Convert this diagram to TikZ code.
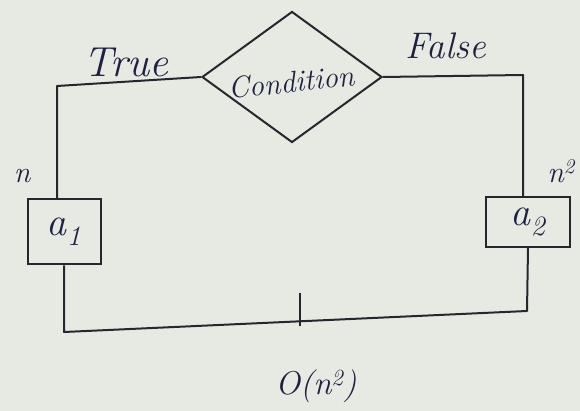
\documentclass[tikz,border=0pt]{standalone}
\usepackage{fontspec}
\usetikzlibrary{shapes.geometric}
\definecolor{paper}{HTML}{E7EAE3}
\definecolor{ink}{HTML}{26272E}
\definecolor{pen}{HTML}{1E2240}
\begin{document}
\begin{tikzpicture}[x=1pt,y=-1pt,
  wire/.style={draw=ink,line width=2pt,line join=round},
  hand/.style={text=pen,font=\itshape\fontsize{42}{46}\selectfont,inner sep=0pt},
  boxnode/.style={draw=ink,line width=2pt,rectangle,inner sep=0pt,text=pen,font=\itshape\fontsize{40}{44}\selectfont}]
\fill[paper] (0,0) rectangle (580,411);
\useasboundingbox (0,0) rectangle (580,411);
% nodes
\node[draw=ink,line width=2pt,diamond,minimum width=180pt,minimum height=131pt,inner sep=0pt] (cond) at (292,77) {};
\node[hand,rotate=6,font=\itshape\fontsize{30}{33}\selectfont] (condtxt) at (291,82) {Condition};
\node[boxnode,minimum width=73pt,minimum height=65pt] (a1) at (64,232) {a\textsubscript{1}};
\node[boxnode,minimum width=84pt,minimum height=50pt] (a2) at (528,222) {a\textsubscript{2}};
% corner coordinates
\coordinate (cTL) at (57,86);
\coordinate (cTR) at (523,75);
\coordinate (cBL) at (66,332);
\coordinate (cBR) at (527,311);
\coordinate (tk) at (300,321);
% connectors
\draw[wire] (cond.west) -- (cTL) -- (cTL |- a1.north);
\draw[wire] (cond.east) -- (cTR) -- (cTR |- a2.north);
\draw[wire] (a1.south) -- (a1.south |- cBL) -- (cBR) -- (a2.south);
\draw[wire] ([yshift=-5pt]tk) -- ([yshift=28pt]tk);
% labels
\node[hand] (ltrue) at (126,62) {True};
\node[hand,font=\itshape\fontsize{37}{40}\selectfont] (lfalse) at (446,46) {False};
\node[hand,font=\itshape\fontsize{30}{32}\selectfont] (ln) at (22,176) {n};
\node[hand,font=\itshape\fontsize{30}{32}\selectfont] (ln2) at (561,171) {n\textsuperscript{2}};
\node[hand,font=\itshape\fontsize{33}{36}\selectfont] (lo) at (316,386) {O(n\textsuperscript{2})};
\end{tikzpicture}
\end{document}
